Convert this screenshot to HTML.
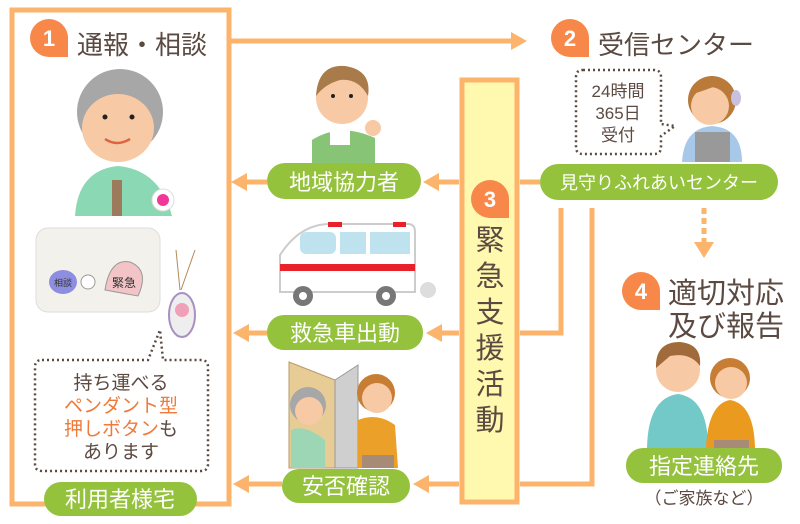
<!DOCTYPE html>
<html><head><meta charset="utf-8"><style>
html,body{margin:0;padding:0;background:#fff;width:800px;height:524px;overflow:hidden}
svg{display:block}
text{font-family:"Liberation Sans","Noto Sans CJK JP",sans-serif}
</style></head><body>
<svg width="800" height="524" viewBox="0 0 800 524" xmlns="http://www.w3.org/2000/svg">
<g fill="none" stroke="#fcb36b" stroke-width="5">
<path d="M12,10 H229 V504 H12 Z"/>
<path d="M231,41 H512"/>
<rect x="462" y="80" width="55" height="422" fill="#fff9b0"/>
<path d="M459,182 H438"/><path d="M267,182 H247"/>
<path d="M459,333 H440"/><path d="M267,333 H247"/>
<path d="M459,484 H428"/><path d="M282,484 H247"/>
<path d="M520,182 H540"/>
<path d="M561,208 V333 H520"/>
<path d="M592,208 V484 H520"/>
<path d="M704,208 V244" stroke-dasharray="6,4"/>
</g>
<g fill="#fcb36b">
<path d="M527,41 l-16,-9 v18 z"/>
<path d="M423,182 l16,-9 v18 z"/><path d="M231,182 l16,-9 v18 z"/>
<path d="M426,333 l16,-9 v18 z"/><path d="M233,333 l16,-9 v18 z"/>
<path d="M413,484 l16,-9 v18 z"/><path d="M233,484 l16,-9 v18 z"/>
<path d="M704,258 l-10,-16 h20 z"/>
</g>
<g fill="#f8874a">
<path d="M68,57 H49 A19,19 0 1 1 68,38 Z"/>
<path d="M589,57 H570 A19,19 0 1 1 589,38 Z"/>
<path d="M509,218 H490 A19,19 0 1 1 509,199 Z"/>
<path d="M660,310 H641 A19,19 0 1 1 660,291 Z"/>
</g>
<g fill="#fff" font-size="22" font-weight="bold" text-anchor="middle">
<text x="49" y="46">1</text><text x="570" y="46">2</text><text x="490" y="207">3</text><text x="641" y="299">4</text>
</g>
<g fill="#5b4a41">
<text x="77" y="54" font-size="26">通報・相談</text>
<text x="598" y="54" font-size="26">受信センター</text>
<text x="668" y="303" font-size="29">適切対応</text>
<text x="668" y="336" font-size="29">及び報告</text>
<text x="704" y="504" font-size="17" text-anchor="middle">（ご家族など）</text>
</g>
<g fill="#5b4a41" font-size="29" text-anchor="middle">
<text x="490" y="250">緊</text><text x="490" y="286">急</text><text x="490" y="322">支</text><text x="490" y="358">援</text><text x="490" y="394">活</text><text x="490" y="430">動</text>
</g>
<path d="M583,70 H654 Q661,70 661,77 V124 L675,126 L661,136 V147 Q661,154 654,154 H583 Q576,154 576,147 V77 Q576,70 583,70 Z" fill="#fff" stroke="#5b4a41" stroke-width="2.5" stroke-dasharray="2,3"/>
<g fill="#5b4a41" font-size="17" text-anchor="middle"><text x="618" y="97">24時間</text><text x="618" y="119">365日</text><text x="618" y="141">受付</text></g>
<path d="M42,360 H148 L160,330 L163,360 H201 Q208,360 208,367 V464 Q208,471 201,471 H42 Q35,471 35,464 V367 Q35,360 42,360 Z" fill="#fff" stroke="#5b4a41" stroke-width="2.5" stroke-dasharray="2,3"/>
<g font-size="19" text-anchor="middle">
<text x="121" y="389" fill="#5b4a41">持ち運べる</text>
<text x="121" y="412" fill="#f07a3a">ペンダント型</text>
<text x="121" y="435"><tspan fill="#f07a3a">押しボタン</tspan><tspan fill="#5b4a41">も</tspan></text>
<text x="121" y="458" fill="#5b4a41">あります</text>
</g>
<g fill="#95c23d">
<rect x="540" y="164" width="238" height="36" rx="18"/>
<rect x="267" y="163" width="154" height="36" rx="18"/>
<rect x="267" y="315" width="156" height="35" rx="17"/>
<rect x="282" y="469" width="128" height="34" rx="17"/>
<rect x="44" y="482" width="153" height="34" rx="17"/>
<rect x="626" y="448" width="156" height="35" rx="17"/>
</g>
<g fill="#fff" text-anchor="middle">
<text x="659" y="189" font-size="18">見守りふれあいセンター</text>
<text x="344" y="190" font-size="22">地域協力者</text>
<text x="345" y="341" font-size="22">救急車出動</text>
<text x="346" y="494" font-size="22">安否確認</text>
<text x="120" y="507" font-size="22">利用者様宅</text>
<text x="704" y="474" font-size="22">指定連絡先</text>
</g>
<path d="M75,216 Q78,170 118,166 Q160,170 172,216 Z" fill="#8bd8b4"/>
<rect x="112" y="180" width="10" height="36" fill="#9e7a5c"/>
<circle cx="120" cy="112" r="43" fill="#a7a7a7"/>
<ellipse cx="118" cy="128" rx="36" ry="34" fill="#f7c9a4"/>
<path d="M85,108 Q118,78 155,110 Q150,90 120,84 Q90,86 85,108Z" fill="#a7a7a7"/>
<circle cx="105" cy="117" r="2.5" fill="#222"/><circle cx="132" cy="117" r="2.5" fill="#222"/>
<path d="M105,139 Q117,147 130,139" stroke="#e0623e" stroke-width="2.5" fill="none"/>
<circle cx="163" cy="200" r="11" fill="#fff" stroke="#ddd"/><circle cx="163" cy="200" r="6" fill="#f0389a"/>
<rect x="36" y="228" width="124" height="84" rx="12" fill="#f3f1ec" stroke="#ddd"/>
<ellipse cx="63" cy="282" rx="14" ry="12" fill="#8e8ee0"/>
<circle cx="88" cy="282" r="7" fill="#fff" stroke="#999"/>
<path d="M105,290 Q110,258 130,262 Q150,270 138,296 Z" fill="#f2c4c8" stroke="#999"/>
<text x="63" y="286" font-size="9" text-anchor="middle" fill="#333">相談</text>
<text x="124" y="287" font-size="12" text-anchor="middle" fill="#333">緊急</text>
<path d="M180,290 L176,250 M181,290 L195,250" stroke="#b08a5a"/>
<ellipse cx="182" cy="315" rx="13" ry="22" fill="#eee" stroke="#a890c0" stroke-width="2"/>
<circle cx="182" cy="310" r="7" fill="#f0a0b8"/>
<path d="M312,163 V140 Q340,122 375,138 V163 Z" fill="#88c476"/>
<rect x="330" y="130" width="20" height="15" fill="#fff"/>
<circle cx="342" cy="98" r="26" fill="#f7c9a4"/>
<path d="M316,96 Q318,64 345,66 Q372,70 368,96 Q358,78 340,80 Q325,84 316,96Z" fill="#a97a4a"/>
<circle cx="333" cy="96" r="2" fill="#222"/><circle cx="351" cy="96" r="2" fill="#222"/>
<circle cx="373" cy="128" r="8" fill="#f7c9a4"/>
<path d="M280,292 V255 Q300,224 330,224 H408 Q415,224 415,232 V292 Z" fill="#fff" stroke="#ccc" stroke-width="2"/>
<rect x="280" y="264" width="135" height="7" fill="#e8212a"/>
<rect x="300" y="232" width="36" height="22" rx="6" fill="#bfe3ee"/><rect x="340" y="232" width="26" height="22" fill="#bfe3ee"/><rect x="370" y="232" width="40" height="22" fill="#bfe3ee"/>
<rect x="328" y="222" width="14" height="5" fill="#e8212a"/><rect x="393" y="222" width="13" height="5" fill="#e8212a"/>
<circle cx="303" cy="296" r="10" fill="#777"/><circle cx="303" cy="296" r="4" fill="#fff"/>
<circle cx="386" cy="296" r="10" fill="#777"/><circle cx="386" cy="296" r="4" fill="#fff"/>
<circle cx="428" cy="290" r="8" fill="#ddd"/>
<path d="M289,362 L335,380 V468 H289 Z" fill="#e8cc96" stroke="#b79b6b"/>
<path d="M335,380 L358,365 V468 H335 Z" fill="#cfcfcf" stroke="#999"/>
<circle cx="308" cy="405" r="18" fill="#a7a7a7"/><circle cx="309" cy="411" r="14" fill="#f7c9a4"/>
<path d="M291,430 Q305,424 325,440 V468 H291 Z" fill="#9dd6b4"/>
<circle cx="376" cy="393" r="19" fill="#c87d34"/><circle cx="377" cy="398" r="15" fill="#f7c9a4"/>
<path d="M358,420 Q377,412 395,425 L398,468 H358 Z" fill="#eba02a"/>
<rect x="362" y="455" width="32" height="13" fill="#a88b77"/>
<path d="M682,162 Q684,128 712,126 Q742,128 742,162 Z" fill="#a8c8ea"/>
<path d="M695,162 V132 H730 V162 Z" fill="#999"/>
<circle cx="712" cy="100" r="24" fill="#b97a3a"/><circle cx="710" cy="106" r="19" fill="#f7c9a4"/>
<path d="M690,95 Q700,74 725,82 Q712,88 690,95Z" fill="#b97a3a"/>
<ellipse cx="736" cy="98" rx="5" ry="8" fill="#c8c0dc"/>
<path d="M647,448 Q648,398 678,394 Q708,398 708,448 Z" fill="#72c9c8"/>
<circle cx="678" cy="370" r="22" fill="#f7c9a4"/>
<path d="M656,368 Q655,342 680,342 Q702,344 700,366 Q690,352 670,356Z" fill="#a06a3a"/>
<path d="M706,448 Q708,404 730,400 Q754,404 755,448 Z" fill="#eb9a20"/>
<circle cx="730" cy="378" r="20" fill="#c87d34"/><circle cx="731" cy="383" r="16" fill="#f7c9a4"/>
<rect x="714" y="440" width="35" height="8" fill="#a88b77"/>
</svg>
</body></html>
